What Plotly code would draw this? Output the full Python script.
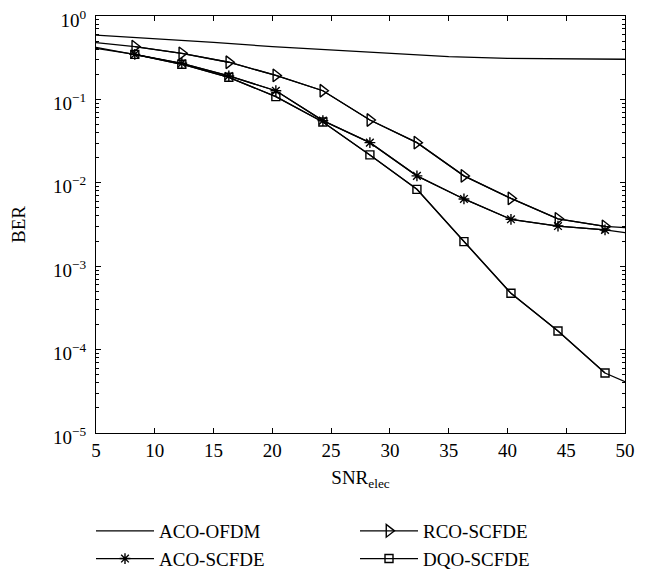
import plotly.graph_objects as go

# ---- data ----
snr_ofdm = [5, 10, 15, 20, 25, 30, 35, 40, 45, 50]
ber_aco_ofdm = [0.59, 0.537, 0.484, 0.429, 0.391, 0.350, 0.325, 0.311, 0.305, 0.303]

snr = [5, 8.3, 12.3, 16.3, 20.3, 24.3, 28.3, 32.3, 36.3, 40.3, 44.3, 48.3, 50]
ber_aco_scfde = [0.42, 0.347, 0.271, 0.191, 0.127, 0.0556, 0.0303, 0.0121, 0.0064, 0.00365, 0.00303, 0.00272, 0.00252]
ber_rco_scfde = [0.48, 0.429, 0.357, 0.279, 0.194, 0.127, 0.0566, 0.0303, 0.0121, 0.0065, 0.0037, 0.0030, 0.0029]
ber_dqo_scfde = [0.41, 0.347, 0.264, 0.184, 0.108, 0.0536, 0.0216, 0.00835, 0.00197, 4.73e-4, 1.67e-4, 5.24e-5, 4.12e-5]

x_tick_vals = [5, 10, 15, 20, 25, 30, 35, 40, 45, 50]
y_tick_vals = [1, 1e-1, 1e-2, 1e-3, 1e-4, 1e-5]
y_tick_text = ["10<sup>0</sup>", "10<sup>\u22121</sup>", "10<sup>\u22122</sup>",
               "10<sup>\u22123</sup>", "10<sup>\u22124</sup>", "10<sup>\u22125</sup>"]
x_title = "SNR<sub>elec</sub>"
y_title = "BER"

FONT = "Liberation Serif"
LW = 1.3

minor_vals = [k * 10.0 ** e for e in range(-5, 0) for k in range(2, 10)]

fig = go.Figure()
fig.add_trace(go.Scatter(x=snr_ofdm, y=ber_aco_ofdm, mode="lines", name="ACO-OFDM",
                         line=dict(color="black", width=LW), legendrank=1))

series = [
    ("RCO-SCFDE", ber_rco_scfde, "triangle-right-open", 11, 2),
    ("ACO-SCFDE", ber_aco_scfde, "asterisk-open", 9, 3),
    ("DQO-SCFDE", ber_dqo_scfde, "square-open", 8, 4),
]
for name, ys, sym, size, rank in series:
    fig.add_trace(go.Scatter(x=snr, y=ys, mode="lines", showlegend=False, hoverinfo="skip",
                             line=dict(color="black", width=LW)))
    fig.add_trace(go.Scatter(x=snr[1:-1], y=ys[1:-1], mode="lines+markers", name=name,
                             line=dict(color="black", width=LW),
                             marker=dict(symbol=sym, size=size, color="black",
                                         line=dict(color="black", width=1.4)),
                             legendrank=rank))

axis_common = dict(showline=True, linecolor="black", linewidth=1.2, mirror="ticks",
                   ticks="inside", ticklen=5, tickcolor="black", tickwidth=1,
                   showgrid=False, zeroline=False, automargin=False,
                   ticklabeloverflow="allow",
                   tickfont=dict(family=FONT, size=19, color="black"))

# page body adds an 8px offset, so the figure is 8px smaller and margins shifted
W, H = 640, 563
fig.update_layout(
    width=W, height=H, autosize=False,
    margin=dict(l=88, r=23, t=8, b=138),
    paper_bgcolor="white", plot_bgcolor="white",
    font=dict(family=FONT, size=19, color="black"),
    xaxis=dict(range=[5, 50], tickmode="array", tickvals=x_tick_vals,
               title=dict(text=x_title, font=dict(family=FONT, size=19), standoff=10),
               **axis_common),
    yaxis=dict(type="log", range=[-5, 0], tickmode="array", tickvals=y_tick_vals,
               ticktext=y_tick_text, ticklabelstandoff=5, ticklabelshift=4,
               minor=dict(tickmode="array", tickvals=minor_vals, ticks="inside", ticklen=3,
                          tickcolor="black", showgrid=False),
               title=dict(text=y_title, font=dict(family=FONT, size=19), standoff=26),
               **axis_common),
    showlegend=True,
    legend=dict(orientation="h", xref="container", x=83 / W, xanchor="left",
                yref="container", y=1 - 504 / H, yanchor="top",
                entrywidth=191, entrywidthmode="pixels", itemwidth=58,
                font=dict(family=FONT, size=19, color="black"),
                bgcolor="rgba(0,0,0,0)", traceorder="normal", tracegroupgap=0),
)

fig.write_html("out.html")
